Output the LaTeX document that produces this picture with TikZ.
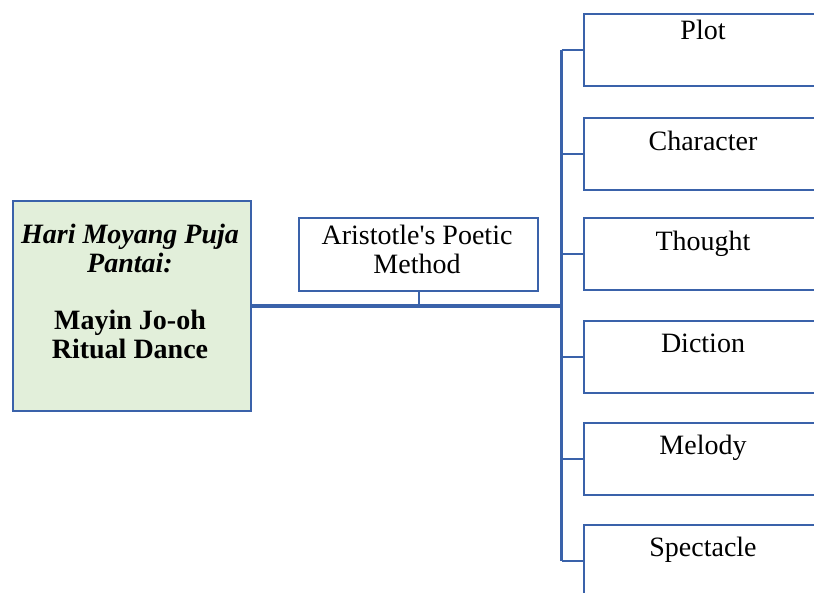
\documentclass[tikz,border=0pt]{standalone}
\usepackage{fontspec}
\setmainfont{Liberation Serif}
\definecolor{edge}{RGB}{58,98,170}
\definecolor{leafgreen}{RGB}{226,239,218}
\tikzset{
 box/.style={draw=edge, line width=2.3pt, minimum width=240pt, minimum height=72pt, inner sep=0pt, anchor=north west},
 lbl/.style={font=\fontsize{28}{29}\selectfont, inner sep=0pt, anchor=base},
 conn/.style={draw=edge, line width=2.3pt},
 spineline/.style={draw=edge, line width=3pt},
 trunk/.style={draw=edge, line width=4pt},
}
\begin{document}
\begin{tikzpicture}[x=1pt,y=-1pt]
\clip (0,0) rectangle (814,592);
\fill[white] (0,0) rectangle (814,592);
% source box
\node[box, fill=leafgreen, minimum width=238pt, minimum height=210pt] (src) at (12,200) {};
\node[lbl] (s1) at (130,243) {\textbf{\textit{Hari Moyang Puja}}};
\node[lbl] (s2) at (130,272) {\textbf{\textit{Pantai:}}};
\node[lbl] (s3) at (130,329) {\textbf{Mayin Jo-oh}};
\node[lbl] (s4) at (130,358) {\textbf{Ritual Dance}};
% method box
\node[box, minimum width=239pt, minimum height=73pt] (arist) at (298,217) {};
\node[lbl] (a1) at (417,244) {Aristotle\textquotesingle s Poetic};
\node[lbl] (a2) at (417,273) {Method};
% element boxes
\node[box] (plot) at (583,13) {};
\node[box] (chara) at (583,117) {};
\node[box] (thought) at (583,217) {};
\node[box] (diction) at (583,320) {};
\node[box] (melody) at (583,422) {};
\node[box] (spect) at (583,524) {};
\node[lbl] (tplot) at (703,39) {Plot};
\node[lbl] (tchara) at (703,150) {Character};
\node[lbl] (tthought) at (703,250) {Thought};
\node[lbl] (tdiction) at (703,352) {Diction};
\node[lbl] (tmelody) at (703,454) {Melody};
\node[lbl] (tspect) at (703,556) {Spectacle};
% connectors
\coordinate (sp) at (561.5,305);
\draw[trunk] (src.east) -- (src.east -| sp);
\draw[conn] (arist.south) -- (arist.south |- src.east);
\draw[spineline, line cap=square] (plot.west -| sp) -- (spect.west -| sp);
\foreach \b in {plot,chara,thought,diction,melody,spect}
  \draw[conn] (\b.west -| sp) -- (\b.west);
\end{tikzpicture}
\end{document}
